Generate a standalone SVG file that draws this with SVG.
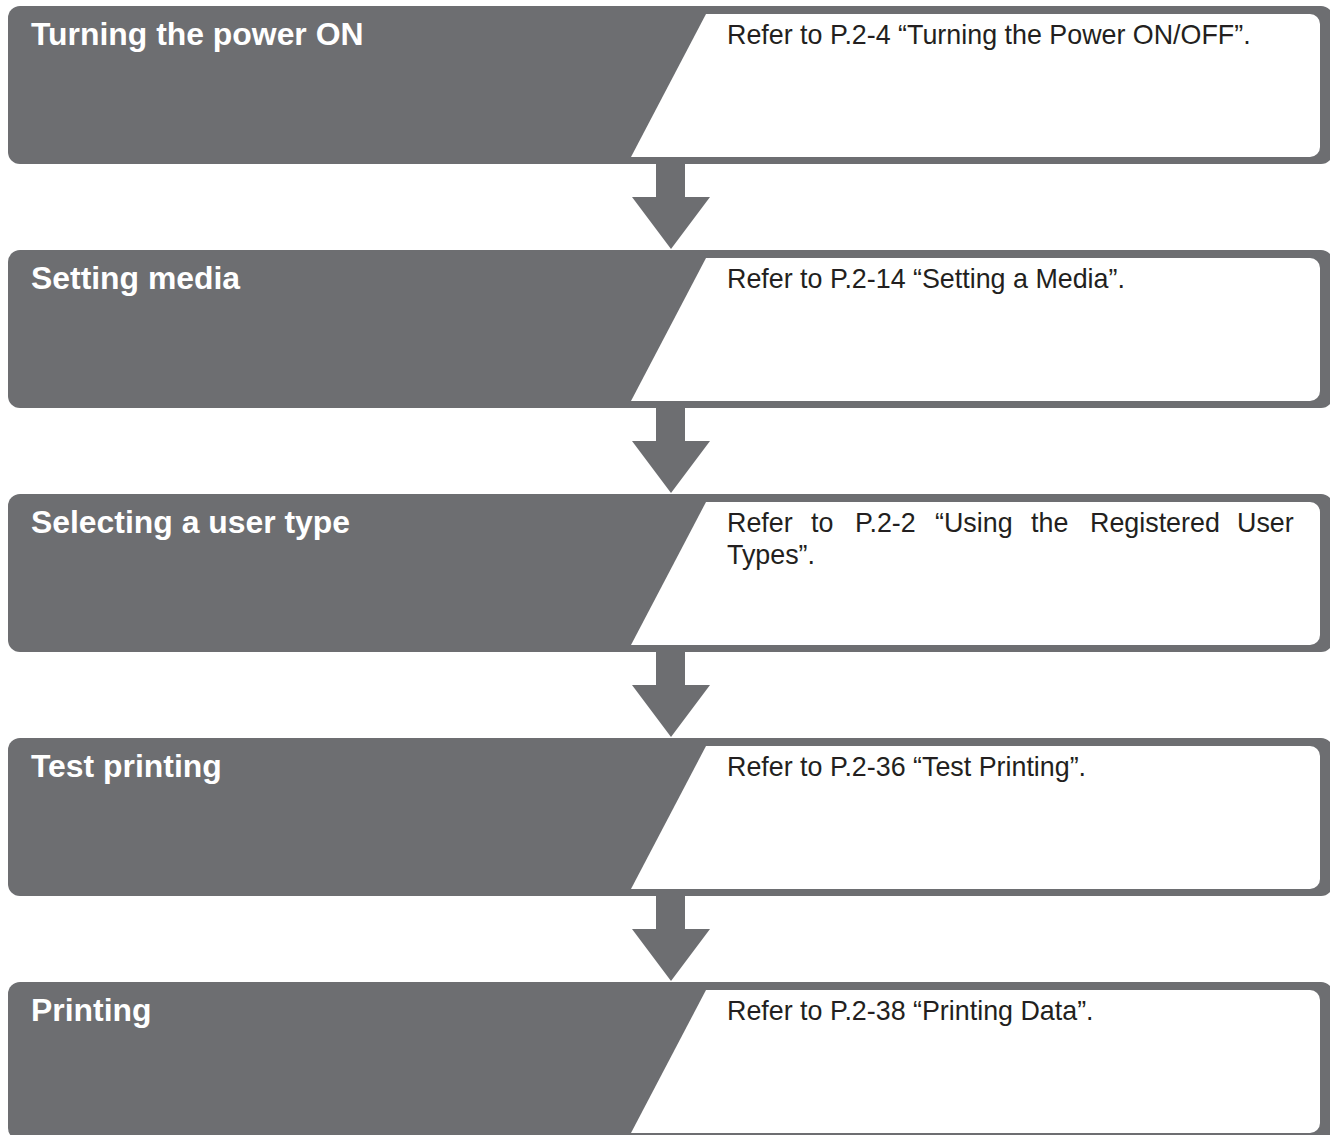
<svg xmlns="http://www.w3.org/2000/svg" xmlns:xlink="http://www.w3.org/1999/xlink" width="1330" height="1135" viewBox="0 0 1330 1135">
<style>
.box{fill:#6d6e71}
.pane{fill:#ffffff}
.title{font-family:"Liberation Sans",Arial,sans-serif;font-weight:bold;font-size:31.9px;fill:#ffffff}
.ref{font-family:"Liberation Sans",Arial,sans-serif;font-size:26.85px;fill:#231f20}
.arrow{fill:#6d6e71}
</style>
<defs>
<rect id="boxShape" class="box" x="8" y="0" width="1325" height="158" rx="12" ry="12"/>
<path id="paneShape" class="pane" d="M706,8 H1310 A10,10 0 0 1 1320,18 V141 A10,10 0 0 1 1310,151 H631 Z"/>
<path id="arrowShape" class="arrow" d="M656,0 H685 V33 H710 L671,85 L632,33 H656 Z"/>
</defs>
<g id="node-1" transform="translate(0,6)">
<use xlink:href="#boxShape" href="#boxShape"/>
<use xlink:href="#paneShape" href="#paneShape"/>
<text class="title" x="31" y="39">Turning the power ON</text>
<text class="ref" x="727" y="38">Refer to P.2-4 “Turning the Power ON/OFF”.</text>
</g>
<g id="node-2" transform="translate(0,250)">
<use xlink:href="#boxShape" href="#boxShape"/>
<use xlink:href="#paneShape" href="#paneShape"/>
<text class="title" x="31" y="39">Setting media</text>
<text class="ref" x="727" y="38">Refer to P.2-14 “Setting a Media”.</text>
</g>
<g id="node-3" transform="translate(0,494)">
<use xlink:href="#boxShape" href="#boxShape"/>
<use xlink:href="#paneShape" href="#paneShape"/>
<text class="title" x="31" y="39">Selecting a user type</text>
<text class="ref" y="38"><tspan x="727">Refer</tspan><tspan x="811">to</tspan><tspan x="855">P.2-2</tspan><tspan x="935">“Using</tspan><tspan x="1031">the</tspan><tspan x="1090">Registered</tspan><tspan x="1237">User</tspan></text>
<text class="ref" x="727" y="70">Types”.</text>
</g>
<g id="node-4" transform="translate(0,738)">
<use xlink:href="#boxShape" href="#boxShape"/>
<use xlink:href="#paneShape" href="#paneShape"/>
<text class="title" x="31" y="39">Test printing</text>
<text class="ref" x="727" y="38">Refer to P.2-36 “Test Printing”.</text>
</g>
<g id="node-5" transform="translate(0,982)">
<use xlink:href="#boxShape" href="#boxShape"/>
<use xlink:href="#paneShape" href="#paneShape"/>
<text class="title" x="31" y="39">Printing</text>
<text class="ref" x="727" y="38">Refer to P.2-38 “Printing Data”.</text>
</g>
<g id="connectors">
<use xlink:href="#arrowShape" href="#arrowShape" transform="translate(0,164)"/>
<use xlink:href="#arrowShape" href="#arrowShape" transform="translate(0,408)"/>
<use xlink:href="#arrowShape" href="#arrowShape" transform="translate(0,652)"/>
<use xlink:href="#arrowShape" href="#arrowShape" transform="translate(0,896)"/>
</g>
</svg>
